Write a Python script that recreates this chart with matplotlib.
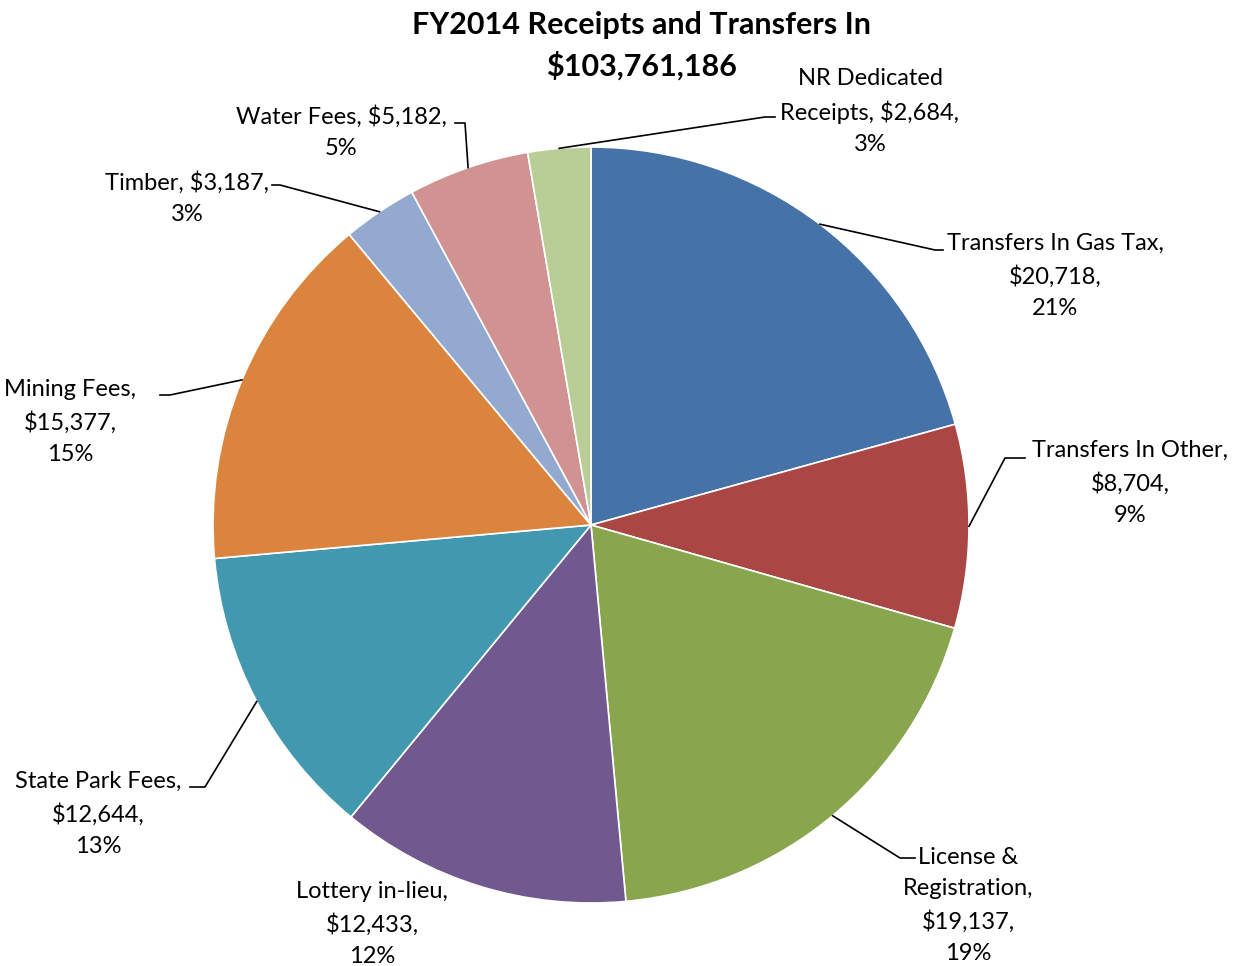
import numpy as np
import matplotlib.pyplot as plt

plt.rcParams['font.family'] = ['Lato', 'DejaVu Sans']

labels = ["Transfers In Gas Tax", "Transfers In Other", "License &\nRegistration",
          "Lottery in-lieu", "State Park Fees", "Mining Fees", "Timber",
          "Water Fees", "NR Dedicated\nReceipts"]
values = [20718, 8704, 19137, 12433, 12644, 15377, 3187, 5182, 2684]
percents = [21, 9, 19, 12, 13, 15, 3, 5, 3]
colors = ["#4572A7", "#AA4643", "#89A54E", "#71588F", "#4198AF",
          "#DB843D", "#93A9CF", "#D19392", "#B9CD96"]

label_texts = [
    "Transfers In Gas Tax,\n${:,},\n{}%",
    "Transfers In Other,\n${:,},\n{}%",
    "License &\nRegistration,\n${:,},\n{}%",
    "Lottery in-lieu,\n${:,},\n{}%",
    "State Park Fees,\n${:,},\n{}%",
    "Mining Fees,\n${:,},\n{}%",
    "Timber, ${:,},\n{}%",
    "Water Fees, ${:,},\n{}%",
    "NR Dedicated\nReceipts, ${:,},\n{}%",
]

# layout in pixel coordinates (y measured from top)
W, H = 1244, 966
cx, cy, R = 591, 525, 378
# (text center x, text top y, elbow x, elbow y, line end x) ; None = no leader
placements = [
    (1055, 233, 935, 250, 943),
    (1130, 440, 1005, 458, 1025),
    (968, 847, 900, 858, 915),
    (372, 881, None, None, None),
    (98, 771, 205, 787, 190),
    (70, 379, 170, 395, 160),
    (187, 171, 280, 185, 272),
    (341, 105, 465, 123, 455),
    (870, 68, 765, 117, 775),
]

fig = plt.figure(figsize=(W / 100, H / 100), dpi=100)
ax = fig.add_axes([0, 0, 1, 1])

wedges, _ = ax.pie(values, colors=colors, startangle=90, counterclock=False,
                   center=(cx, H - cy), radius=R,
                   wedgeprops=dict(edgecolor='white', linewidth=1.2))
ax.set_xlim(0, W)
ax.set_ylim(0, H)
ax.set_aspect('equal')
ax.axis('off')

for w, txt, v, p, pl in zip(wedges, label_texts, values, percents, placements):
    tx, ty, ex, ey, lx = pl
    ax.text(tx, H - ty, txt.format(v, p), ha='center', va='top',
            fontsize=17, linespacing=1.6)
    if ex is None:
        continue
    ang = np.deg2rad((w.theta1 + w.theta2) / 2)
    px = cx + R * np.cos(ang)
    py = (H - cy) + R * np.sin(ang)
    ax.plot([px, ex, lx], [py, H - ey, H - ey], color='black', lw=1.2)

ax.text(641, H - 11, "FY2014 Receipts and Transfers In\n$103,761,186",
        ha='center', va='top', fontsize=22, fontweight='bold', linespacing=1.48)

fig.savefig("out.png", dpi=100)
